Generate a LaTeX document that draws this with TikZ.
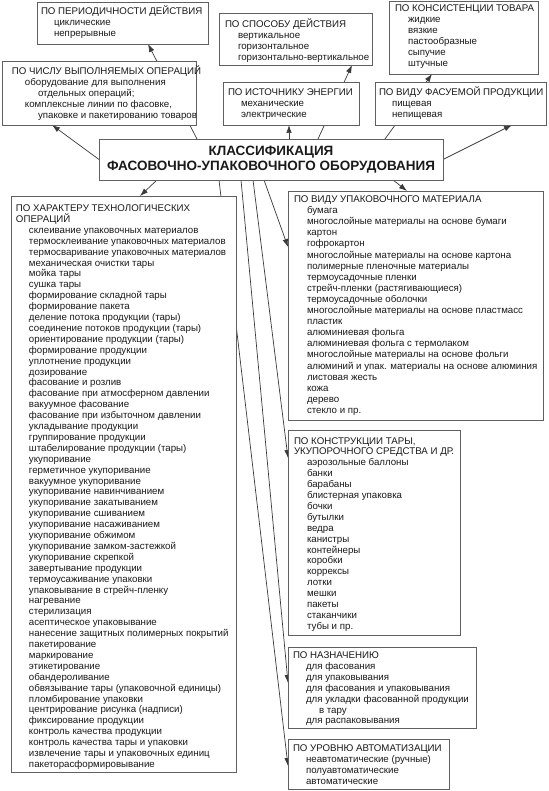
\documentclass[tikz,border=0pt]{standalone}
\usepackage{fontspec}
\setmainfont{Liberation Sans}
\usetikzlibrary{arrows.meta,calc}
\definecolor{boxgray}{HTML}{606060}
\definecolor{linec}{HTML}{3A3A3A}
\definecolor{txtc}{HTML}{1A1A1A}
\newcommand\myind{\hspace*{13pt}}
\newcommand\mystrut{\rule{0pt}{10pt}}
\pgfdeclarelayer{bg}
\pgfsetlayers{bg,main}
\begin{document}
\begin{tikzpicture}[x=1pt,y=-1pt,
  box/.style={draw=boxgray, line width=0.8pt, fill=white, inner sep=0pt, outer sep=0pt, anchor=north west},
  txt/.style={inner sep=0pt, outer sep=0pt, anchor=north west, align=left, text=txtc, font=\fontsize{9.7}{10.9}\selectfont},
  conn/.style={draw=linec, line width=0.7pt, -{Latex[length=8pt,width=5.5pt]}},
]
\useasboundingbox (0,0) rectangle (548,791);
% boxes
\node[box, minimum width=171, minimum height=42] (A) at (37,2) {};
\node[txt] (At) at (41,5) {\mystrut ПО ПЕРИОДИЧНОСТИ ДЕЙСТВИЯ\\\myind циклические\\\myind непрерывные};

\node[box, minimum width=194, minimum height=64] (B) at (2,61) {};
\node[txt] (Bt) at (12,65) {\mystrut ПО ЧИСЛУ ВЫПОЛНЯЕМЫХ ОПЕРАЦИЙ\\\myind оборудование для выполнения\\\myind\myind отдельных операций;\\\myind комплексные линии по фасовке,\\\myind\myind упаковке и пакетированию товаров};

\node[box, minimum width=153, minimum height=52] (C) at (219,13) {};
\node[txt] (Ct) at (225,17.5) {\mystrut ПО СПОСОБУ ДЕЙСТВИЯ\\\myind вертикальное\\\myind горизонтальное\\\myind горизонтально-вертикальное};

\node[box, minimum width=149, minimum height=73] (D) at (389,1) {};
\node[txt] (Dt) at (395,2) {\mystrut ПО КОНСИСТЕНЦИИ ТОВАРА\\\myind жидкие\\\myind вязкие\\\myind пастообразные\\\myind сыпучие\\\myind штучные};

\node[box, minimum width=136, minimum height=43] (E) at (223,82) {};
\node[txt] (Et) at (228,86) {\mystrut ПО ИСТОЧНИКУ ЭНЕРГИИ\\\myind механические\\\myind электрические};

\node[box, minimum width=171, minimum height=43] (F) at (375,82) {};
\node[txt] (Ft) at (379,86) {\mystrut ПО ВИДУ ФАСУЕМОЙ ПРОДУКЦИИ\\\myind пищевая\\\myind непищевая};

\node[box, minimum width=344, minimum height=41, align=center, text=txtc, font=\bfseries\fontsize{13.5}{14.5}\selectfont] (G) at (99,139) {КЛАССИФИКАЦИЯ\\ФАСОВОЧНО-УПАКОВОЧНОГО ОБОРУДОВАНИЯ};

\node[box, minimum width=225, minimum height=576] (H) at (11,196) {};
\node[txt] (Ht) at (16,201.5) {\mystrut ПО ХАРАКТЕРУ ТЕХНОЛОГИЧЕСКИХ\\ОПЕРАЦИЙ\\
\myind склеивание упаковочных материалов\\
\myind термосклеивание упаковочных материалов\\
\myind термосваривание упаковочных материалов\\
\myind механическая очистки тары\\
\myind мойка тары\\
\myind сушка тары\\
\myind формирование складной тары\\
\myind формирование пакета\\
\myind деление потока продукции (тары)\\
\myind соединение потоков продукции (тары)\\
\myind ориентирование продукции (тары)\\
\myind формирование продукции\\
\myind уплотнение продукции\\
\myind дозирование\\
\myind фасование и розлив\\
\myind фасование при атмосферном давлении\\
\myind вакуумное фасование\\
\myind фасование при избыточном давлении\\
\myind укладывание продукции\\
\myind группирование продукции\\
\myind штабелирование продукции (тары)\\
\myind укупоривание\\
\myind герметичное укупоривание\\
\myind вакуумное укупоривание\\
\myind укупоривание навинчиванием\\
\myind укупоривание закатыванием\\
\myind укупоривание сшиванием\\
\myind укупоривание насаживанием\\
\myind укупоривание обжимом\\
\myind укупоривание замком-застежкой\\
\myind укупоривание скрепкой\\
\myind завертывание продукции\\
\myind термоусаживание упаковки\\
\myind упаковывание в стрейч-пленку\\
\myind нагревание\\
\myind стерилизация\\
\myind асептическое упаковывание\\
\myind нанесение защитных полимерных покрытий\\
\myind пакетирование\\
\myind маркирование\\
\myind этикетирование\\
\myind обандероливание\\
\myind обвязывание тары (упаковочной единицы)\\
\myind пломбирование упаковки\\
\myind центрирование рисунка (надписи)\\
\myind фиксирование продукции\\
\myind контроль качества продукции\\
\myind контроль качества тары и упаковки\\
\myind извлечение тары и упаковочных единиц\\
\myind пакеторасформировывание};

\node[box, minimum width=255, minimum height=229] (I) at (288,191) {};
\node[txt, font=\fontsize{9.7}{11.1}\selectfont] (It) at (294,192.5) {\mystrut ПО ВИДУ УПАКОВОЧНОГО МАТЕРИАЛА\\
\myind бумага\\
\myind многослойные материалы на основе бумаги\\
\myind картон\\
\myind гофрокартон\\
\myind многослойные материалы на основе картона\\
\myind полимерные пленочные материалы\\
\myind термоусадочные пленки\\
\myind стрейч-пленки (растягивающиеся)\\
\myind термоусадочные оболочки\\
\myind многослойные материалы на основе пластмасс\\
\myind пластик\\
\myind алюминиевая фольга\\
\myind алюминиевая фольга с термолаком\\
\myind многослойные материалы на основе фольги\\
\myind алюминий и упак. материалы на основе алюминия\\
\myind листовая жесть\\
\myind кожа\\
\myind дерево\\
\myind стекло и пр.};

\node[box, minimum width=172, minimum height=205] (J) at (288,430) {};
\node[txt] (Jt) at (294,434) {\mystrut ПО КОНСТРУКЦИИ ТАРЫ,\\УКУПОРОЧНОГО СРЕДСТВА И ДР.\\
\myind аэрозольные баллоны\\
\myind банки\\
\myind барабаны\\
\myind блистерная упаковка\\
\myind бочки\\
\myind бутылки\\
\myind ведра\\
\myind канистры\\
\myind контейнеры\\
\myind коробки\\
\myind коррексы\\
\myind лотки\\
\myind мешки\\
\myind пакеты\\
\myind стаканчики\\
\myind тубы и пр.};

\node[box, minimum width=188, minimum height=81] (K) at (288,647) {};
\node[txt] (Kt) at (293,648.5) {\mystrut ПО НАЗНАЧЕНИЮ\\
\myind для фасования\\
\myind для упаковывания\\
\myind для фасования и упаковывания\\
\myind для укладки фасованной продукции\\
\myind\myind в тару\\
\myind для распаковывания};

\node[box, minimum width=161, minimum height=50] (L) at (288,739) {};
\node[txt] (Lt) at (293,741.5) {\mystrut ПО УРОВНЮ АВТОМАТИЗАЦИИ\\
\myind неавтоматические (ручные)\\
\myind полуавтоматические\\
\myind автоматические};

\begin{pgfonlayer}{bg}
\fill[white] (0,0) rectangle (548,791);
\draw[conn] ($(G.north west)+(98,0)$) -- ($(A.south west)+(111,0)$);
\draw[conn] (G.west) -- ($(B.south west)+(50,0)$);
\draw[conn] ($(G.north west)+(219,0)$) -- ($(C.south west)+(133,0)$);
\draw[conn] ($(G.north west)+(190,0)$) -- ($(E.south west)+(66,0)$);
\draw[conn] ($(G.north west)+(286,0)$) -- ($(D.south west)+(43,0)$);
\draw[conn] (G.east) -- ($(F.south west)+(137,0)$);
\draw[conn] ($(G.south west)+(58,0)$) -- ($(H.north west)+(129,0)$);
\draw[conn] ($(G.south west)+(294,0)$) -- ($(I.north west)+(119,0)$);
\draw[conn] ($(G.south west)+(165,0)$) -- ($(I.north west)+(0,56)$);
\draw[conn] ($(G.south west)+(154,0)$) -- ($(J.north west)+(0,28)$);
\draw[conn] ($(G.south west)+(142,0)$) -- ($(K.north west)+(0,36)$);
\draw[conn] ($(G.south west)+(120,0)$) -- ($(L.north west)+(0,27)$);
\end{pgfonlayer}
\end{tikzpicture}
\end{document}
